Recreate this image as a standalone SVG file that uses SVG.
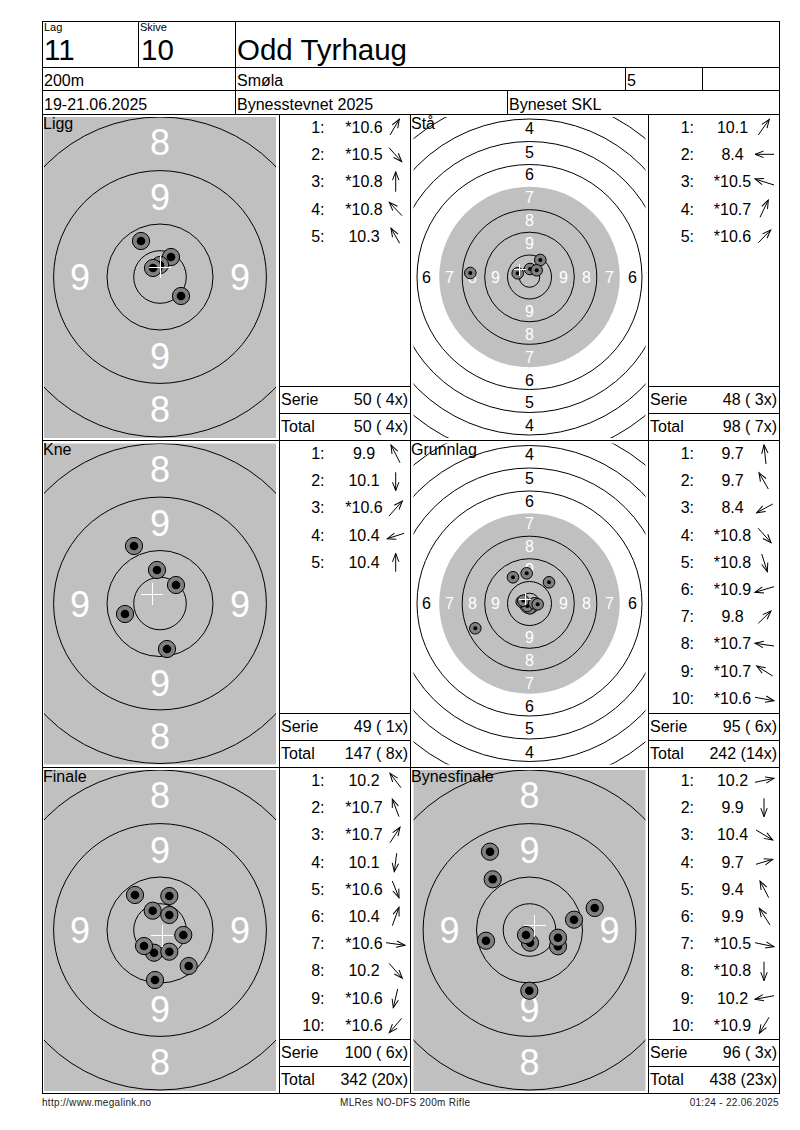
<svg xmlns="http://www.w3.org/2000/svg" width="800" height="1130" viewBox="0 0 800 1130">
<style>
text{font-family:"Liberation Sans",Arial,sans-serif;fill:#000;font-size:16px}
.grid line{stroke:#000;stroke-width:1;shape-rendering:crispEdges}
.ring{fill:none;stroke:#000;stroke-width:1}
.bl{font-size:36px;fill:#fff;text-anchor:middle}
.sw{font-size:16px;fill:#fff;text-anchor:middle}
.sb{font-size:16px;fill:#000;text-anchor:middle}
.tiny{font-size:11px}
.big{font-size:29.5px}
.foot{font-size:10px;letter-spacing:.3px;fill:#222}
.n{text-anchor:end}
.v{text-anchor:middle}
.r{text-anchor:end}
.cross{stroke:#fff;stroke-width:1;fill:none;shape-rendering:crispEdges}
.arrows line{stroke:#000;stroke-width:1;marker-end:url(#head)}
</style>
<defs>
<marker id="head" markerUnits="userSpaceOnUse" markerWidth="12" markerHeight="10" refX="10" refY="5" orient="auto">
<path d="M1.5,1.8 L10,5 L1.5,8.2" fill="none" stroke="#000" stroke-width="1"/>
</marker>
<clipPath id="clip"><rect x="-116" y="-160" width="232" height="321"/></clipPath>
<g id="b"><circle r="8.6" fill="#808080" stroke="#000"/><circle r="4.3" fill="#000"/></g>
<g id="s"><circle r="5.8" fill="#808080" stroke="#000"/><circle r="2" fill="#000"/></g>
<path id="cb" class="cross" d="M-11,0H11M0,-11V11"/>
<path id="cs" class="cross" d="M-6,0H6M0,-6V6"/>
<g id="bigTarget">
<rect x="-116" y="-160" width="232" height="321" fill="#c0c0c0"/>
<g clip-path="url(#clip)">
<circle class="ring" r="160"/><circle class="ring" r="106.4"/><circle class="ring" r="53"/><circle class="ring" r="26.3"/>
</g>
<text class="bl" y="-122">8</text><text class="bl" y="-67.5">9</text>
<text class="bl" x="-80" y="13">9</text><text class="bl" x="80" y="13">9</text>
<text class="bl" y="92">9</text><text class="bl" y="145">8</text>
</g>
<g id="smallTarget">
<g clip-path="url(#clip)">
<circle r="90.3" fill="#c0c0c0"/>
<circle class="ring" r="180.5"/><circle class="ring" r="158"/><circle class="ring" r="135.5"/><circle class="ring" r="112.5"/>
<circle class="ring" r="67.3"/><circle class="ring" r="44.8"/><circle class="ring" r="22"/><circle class="ring" r="10.3"/>
</g>
<text class="sb" y="-143.5">4</text><text class="sb" y="-119.5">5</text><text class="sb" y="-97">6</text>
<text class="sw" y="-74.5">7</text><text class="sw" y="-51.5">8</text><text class="sw" y="-28.5">9</text>
<text class="sb" x="-103" y="5.5">6</text><text class="sw" x="-80" y="5.5">7</text><text class="sw" x="-57" y="5.5">8</text><text class="sw" x="-34" y="5.5">9</text>
<text class="sw" x="34" y="5.5">9</text><text class="sw" x="57" y="5.5">8</text><text class="sw" x="80" y="5.5">7</text><text class="sb" x="103" y="5.5">6</text>
<text class="sw" y="39.5">9</text><text class="sw" y="62.5">8</text><text class="sw" y="85.5">7</text>
<text class="sb" y="108.5">6</text><text class="sb" y="130.5">5</text><text class="sb" y="154">4</text>
</g>
</defs>
<rect width="800" height="1130" fill="#fff"/>

<g id="panel-ligg">
<use href="#bigTarget" x="160" y="277"/>
<use href="#b" x="141" y="241"/><use href="#b" x="171" y="257"/><use href="#b" x="160" y="265"/><use href="#b" x="153" y="268"/><use href="#b" x="181" y="296"/>
<use href="#cb" x="160" y="267"/>
<text x="43" y="129">Ligg</text>
<g class="arrows"><line x1="390" y1="135" x2="399.3" y2="119.3"/><line x1="389" y1="147.7" x2="401.7" y2="161.7"/><line x1="395.7" y1="191.7" x2="395.7" y2="171.7"/><line x1="402" y1="215.7" x2="389.3" y2="202.3"/><line x1="399.7" y1="243.3" x2="391" y2="228.3"/></g>
<text class="n" x="324.5" y="133">1:</text><text class="v" x="364" y="133">*10.6</text>
<text class="n" x="324.5" y="160.2">2:</text><text class="v" x="364" y="160.2">*10.5</text>
<text class="n" x="324.5" y="187.4">3:</text><text class="v" x="364" y="187.4">*10.8</text>
<text class="n" x="324.5" y="214.6">4:</text><text class="v" x="364" y="214.6">*10.8</text>
<text class="n" x="324.5" y="241.8">5:</text><text class="v" x="364" y="241.8">10.3</text>
<text x="281" y="404.5">Serie</text><text class="r" x="408" y="404.5">50 ( 4x)</text>
<text x="281" y="432">Total</text><text class="r" x="408" y="432">50 ( 4x)</text>
</g>

<g id="panel-sta">
<use href="#smallTarget" x="529.5" y="277"/>
<use href="#s" x="470.3" y="273"/><use href="#s" x="517.7" y="273.3"/><use href="#s" x="540.3" y="260"/><use href="#s" x="530" y="269"/><use href="#s" x="536.7" y="270.3"/>
<use href="#cs" x="519.5" y="269.5"/>
<text x="411" y="129">Stå</text>
<g class="arrows"><line x1="758.3" y1="135" x2="769.3" y2="119.3"/><line x1="774" y1="154.3" x2="755" y2="154.3"/><line x1="774" y1="185" x2="755" y2="179"/><line x1="760" y1="217.3" x2="768.3" y2="200"/><line x1="758.3" y1="242.7" x2="770.7" y2="230"/></g>
<text class="n" x="694" y="133">1:</text><text class="v" x="732.5" y="133">10.1</text>
<text class="n" x="694" y="160.2">2:</text><text class="v" x="732.5" y="160.2">8.4</text>
<text class="n" x="694" y="187.4">3:</text><text class="v" x="732.5" y="187.4">*10.5</text>
<text class="n" x="694" y="214.6">4:</text><text class="v" x="732.5" y="214.6">*10.7</text>
<text class="n" x="694" y="241.8">5:</text><text class="v" x="732.5" y="241.8">*10.6</text>
<text x="650" y="404.5">Serie</text><text class="r" x="777" y="404.5">48 ( 3x)</text>
<text x="650" y="432">Total</text><text class="r" x="777" y="432">98 ( 7x)</text>
</g>

<g id="panel-kne">
<use href="#bigTarget" x="160" y="603.5"/>
<use href="#b" x="134" y="546"/><use href="#b" x="157" y="570"/><use href="#b" x="176" y="585"/><use href="#b" x="125" y="614"/><use href="#b" x="167" y="649"/>
<use href="#cb" x="152" y="594"/>
<text x="43" y="455">Kne</text>
<g class="arrows"><line x1="400" y1="462.7" x2="391" y2="445"/><line x1="395.7" y1="472.3" x2="395.7" y2="490.7"/><line x1="389" y1="516" x2="402.3" y2="501"/><line x1="404" y1="533.3" x2="387.3" y2="538.7"/><line x1="395.7" y1="571.7" x2="395.7" y2="553.3"/></g>
<text class="n" x="324.5" y="459">1:</text><text class="v" x="364" y="459">9.9</text>
<text class="n" x="324.5" y="486.2">2:</text><text class="v" x="364" y="486.2">10.1</text>
<text class="n" x="324.5" y="513.4">3:</text><text class="v" x="364" y="513.4">*10.6</text>
<text class="n" x="324.5" y="540.6">4:</text><text class="v" x="364" y="540.6">10.4</text>
<text class="n" x="324.5" y="567.8">5:</text><text class="v" x="364" y="567.8">10.4</text>
<text x="281" y="731.5">Serie</text><text class="r" x="408" y="731.5">49 ( 1x)</text>
<text x="281" y="758.5">Total</text><text class="r" x="408" y="758.5">147 ( 8x)</text>
</g>

<g id="panel-grunnlag">
<use href="#smallTarget" x="529.5" y="603.5"/>
<use href="#s" x="513" y="577.3"/><use href="#s" x="526.7" y="573.3"/><use href="#s" x="549" y="582.3"/><use href="#s" x="475.3" y="628.3"/>
<use href="#s" x="521.7" y="601.7"/><use href="#s" x="530" y="608.3"/><use href="#s" x="527.3" y="606"/><use href="#s" x="523.3" y="600.7"/><use href="#s" x="534.3" y="603.3"/><use href="#s" x="537.7" y="604.3"/>
<use href="#cs" x="525" y="599"/>
<text x="411" y="455">Grunnlag</text>
<g class="arrows"><line x1="766" y1="464" x2="764" y2="445"/><line x1="768.3" y1="489" x2="759" y2="472.7"/><line x1="772.7" y1="504" x2="756.7" y2="512.7"/><line x1="758.3" y1="528.3" x2="771" y2="542.7"/><line x1="761.7" y1="554" x2="767.3" y2="571.7"/><line x1="774" y1="586.7" x2="755" y2="592.3"/><line x1="758.3" y1="623.3" x2="771" y2="611"/><line x1="774" y1="646" x2="755" y2="643.3"/><line x1="772.7" y1="676" x2="756.7" y2="666"/><line x1="755" y1="697.3" x2="774" y2="700.7"/></g>
<text class="n" x="694" y="459">1:</text><text class="v" x="732.5" y="459">9.7</text>
<text class="n" x="694" y="486.2">2:</text><text class="v" x="732.5" y="486.2">9.7</text>
<text class="n" x="694" y="513.4">3:</text><text class="v" x="732.5" y="513.4">8.4</text>
<text class="n" x="694" y="540.6">4:</text><text class="v" x="732.5" y="540.6">*10.8</text>
<text class="n" x="694" y="567.8">5:</text><text class="v" x="732.5" y="567.8">*10.8</text>
<text class="n" x="694" y="595">6:</text><text class="v" x="732.5" y="595">*10.9</text>
<text class="n" x="694" y="622.2">7:</text><text class="v" x="732.5" y="622.2">9.8</text>
<text class="n" x="694" y="649.4">8:</text><text class="v" x="732.5" y="649.4">*10.7</text>
<text class="n" x="694" y="676.6">9:</text><text class="v" x="732.5" y="676.6">*10.7</text>
<text class="n" x="694" y="703.8">10:</text><text class="v" x="732.5" y="703.8">*10.6</text>
<text x="650" y="731.5">Serie</text><text class="r" x="777" y="731.5">95 ( 6x)</text>
<text x="650" y="758.5">Total</text><text class="r" x="777" y="758.5">242 (14x)</text>
</g>

<g id="panel-finale">
<use href="#bigTarget" x="160" y="930"/>
<use href="#b" x="135" y="895"/><use href="#b" x="169.3" y="896"/><use href="#b" x="152.7" y="910.7"/><use href="#b" x="169.3" y="915"/><use href="#b" x="183.3" y="935"/><use href="#b" x="154" y="952.7"/><use href="#b" x="144" y="946"/><use href="#b" x="169.3" y="951.7"/><use href="#b" x="188.7" y="966"/><use href="#b" x="155" y="980"/>
<use href="#cb" x="162" y="935.5"/>
<text x="43" y="782">Finale</text>
<g class="arrows"><line x1="401" y1="787.7" x2="390" y2="773.3"/><line x1="399" y1="816.7" x2="392.3" y2="799"/><line x1="390" y1="842.7" x2="400" y2="827.3"/><line x1="396.7" y1="853.3" x2="394.3" y2="871.7"/><line x1="392.3" y1="881" x2="399" y2="897.7"/><line x1="392.3" y1="925.7" x2="399" y2="907.3"/><line x1="386" y1="942.7" x2="405" y2="945.3"/><line x1="389" y1="963.3" x2="402.3" y2="978.3"/><line x1="397.7" y1="989" x2="393.3" y2="1007.7"/><line x1="401.7" y1="1018.3" x2="389.3" y2="1032.7"/></g>
<text class="n" x="324.5" y="786">1:</text><text class="v" x="364" y="786">10.2</text>
<text class="n" x="324.5" y="813.2">2:</text><text class="v" x="364" y="813.2">*10.7</text>
<text class="n" x="324.5" y="840.4">3:</text><text class="v" x="364" y="840.4">*10.7</text>
<text class="n" x="324.5" y="867.6">4:</text><text class="v" x="364" y="867.6">10.1</text>
<text class="n" x="324.5" y="894.8">5:</text><text class="v" x="364" y="894.8">*10.6</text>
<text class="n" x="324.5" y="922">6:</text><text class="v" x="364" y="922">10.4</text>
<text class="n" x="324.5" y="949.2">7:</text><text class="v" x="364" y="949.2">*10.6</text>
<text class="n" x="324.5" y="976.4">8:</text><text class="v" x="364" y="976.4">10.2</text>
<text class="n" x="324.5" y="1003.6">9:</text><text class="v" x="364" y="1003.6">*10.6</text>
<text class="n" x="324.5" y="1030.8">10:</text><text class="v" x="364" y="1030.8">*10.6</text>
<text x="281" y="1057.5">Serie</text><text class="r" x="408" y="1057.5">100 ( 6x)</text>
<text x="281" y="1085">Total</text><text class="r" x="408" y="1085">342 (20x)</text>
</g>

<g id="panel-bynesfinale">
<use href="#bigTarget" x="529.5" y="930"/>
<use href="#b" x="490" y="851.7"/><use href="#b" x="492.7" y="879.3"/><use href="#b" x="594.7" y="908"/><use href="#b" x="574" y="919.7"/><use href="#b" x="486" y="940.7"/><use href="#b" x="530" y="942.7"/><use href="#b" x="526" y="935"/><use href="#b" x="558" y="946.3"/><use href="#b" x="558" y="937.7"/><use href="#b" x="529.3" y="990.7"/>
<use href="#cb" x="534.7" y="925.7"/>
<text x="411" y="782">Bynesfinale</text>
<g class="arrows"><line x1="755" y1="782.3" x2="774" y2="778.3"/><line x1="764" y1="798.3" x2="764" y2="816.7"/><line x1="756" y1="830" x2="772.7" y2="840"/><line x1="756" y1="864.3" x2="772.7" y2="859.3"/><line x1="768.7" y1="897.7" x2="760" y2="881"/><line x1="770" y1="925" x2="759.3" y2="908.3"/><line x1="755" y1="942.7" x2="774" y2="946.7"/><line x1="764" y1="961.7" x2="764" y2="980.7"/><line x1="774" y1="995.7" x2="755" y2="999.3"/><line x1="769" y1="1017.3" x2="759.3" y2="1033.3"/></g>
<text class="n" x="694" y="786">1:</text><text class="v" x="732.5" y="786">10.2</text>
<text class="n" x="694" y="813.2">2:</text><text class="v" x="732.5" y="813.2">9.9</text>
<text class="n" x="694" y="840.4">3:</text><text class="v" x="732.5" y="840.4">10.4</text>
<text class="n" x="694" y="867.6">4:</text><text class="v" x="732.5" y="867.6">9.7</text>
<text class="n" x="694" y="894.8">5:</text><text class="v" x="732.5" y="894.8">9.4</text>
<text class="n" x="694" y="922">6:</text><text class="v" x="732.5" y="922">9.9</text>
<text class="n" x="694" y="949.2">7:</text><text class="v" x="732.5" y="949.2">*10.5</text>
<text class="n" x="694" y="976.4">8:</text><text class="v" x="732.5" y="976.4">*10.8</text>
<text class="n" x="694" y="1003.6">9:</text><text class="v" x="732.5" y="1003.6">10.2</text>
<text class="n" x="694" y="1030.8">10:</text><text class="v" x="732.5" y="1030.8">*10.9</text>
<text x="650" y="1057.5">Serie</text><text class="r" x="777" y="1057.5">96 ( 3x)</text>
<text x="650" y="1085">Total</text><text class="r" x="777" y="1085">438 (23x)</text>
</g>

<g id="grid" class="grid">
<line x1="42" y1="21.5" x2="780" y2="21.5"/><line x1="42" y1="67.5" x2="780" y2="67.5"/><line x1="42" y1="90.5" x2="780" y2="90.5"/><line x1="42" y1="114.5" x2="780" y2="114.5"/><line x1="42" y1="440.5" x2="780" y2="440.5"/><line x1="42" y1="767.5" x2="780" y2="767.5"/><line x1="42" y1="1093.5" x2="780" y2="1093.5"/>
<line x1="42.5" y1="21" x2="42.5" y2="1094"/><line x1="779.5" y1="21" x2="779.5" y2="1094"/>
<line x1="138.5" y1="21" x2="138.5" y2="67"/><line x1="235.5" y1="21" x2="235.5" y2="114"/>
<line x1="625.5" y1="67" x2="625.5" y2="90"/><line x1="702.5" y1="67" x2="702.5" y2="90"/><line x1="507.5" y1="90" x2="507.5" y2="114"/>
<line x1="279.5" y1="114" x2="279.5" y2="1094"/><line x1="410.5" y1="114" x2="410.5" y2="1094"/><line x1="648.5" y1="114" x2="648.5" y2="1094"/>
<line x1="279" y1="386.5" x2="411" y2="386.5"/><line x1="279" y1="413.5" x2="411" y2="413.5"/><line x1="648" y1="386.5" x2="780" y2="386.5"/><line x1="648" y1="413.5" x2="780" y2="413.5"/>
<line x1="279" y1="713.5" x2="411" y2="713.5"/><line x1="279" y1="740.5" x2="411" y2="740.5"/><line x1="648" y1="713.5" x2="780" y2="713.5"/><line x1="648" y1="740.5" x2="780" y2="740.5"/>
<line x1="279" y1="1039.5" x2="411" y2="1039.5"/><line x1="279" y1="1066.5" x2="411" y2="1066.5"/><line x1="648" y1="1039.5" x2="780" y2="1039.5"/><line x1="648" y1="1066.5" x2="780" y2="1066.5"/>
</g>

<g id="header">
<text class="tiny" x="44" y="31">Lag</text><text class="big" x="44" y="60">11</text>
<text class="tiny" x="140" y="31">Skive</text><text class="big" x="141" y="60">10</text>
<text class="big" x="237" y="60">Odd Tyrhaug</text>
<text x="44" y="86">200m</text><text x="237" y="86">Smøla</text><text x="627" y="86">5</text>
<text x="44" y="110">19-21.06.2025</text><text x="237" y="110">Bynesstevnet 2025</text><text x="509" y="110">Byneset SKL</text>
</g>
<g id="footer">
<text class="foot" x="42" y="1106">http://www.megalink.no</text>
<text class="foot" x="340" y="1106">MLRes NO-DFS 200m Rifle</text>
<text class="foot" x="779" y="1106" text-anchor="end">01:24 - 22.06.2025</text>
</g>
</svg>
